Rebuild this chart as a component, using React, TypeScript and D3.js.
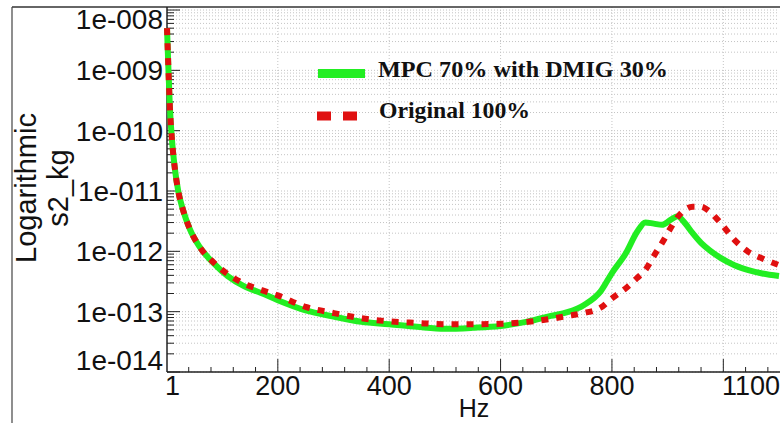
import React from "react";
import * as d3 from "d3";

// frequency (Hz) sampled along both curves
const freqs = [1, 3, 6, 10, 15, 21, 30, 42, 60, 85, 110, 140, 170, 200, 250, 300, 350, 400, 450, 500, 550, 600, 650, 690, 720, 750, 780, 800, 825, 845, 860, 875, 890, 905, 918, 930, 945, 960, 975, 995, 1020, 1045, 1070, 1100];

const mpcValues = [5.01e-9, 1.48e-9, 2.63e-10, 6.92e-11, 2.4e-11, 1.02e-11, 4.79e-12, 2.34e-12, 1.17e-12, 6.31e-13, 3.89e-13, 2.63e-13, 2.04e-13, 1.55e-13, 1.05e-13, 8.3e-14, 6.8e-14, 6.2e-14, 5.6e-14, 5.2e-14, 5.4e-14, 5.8e-14, 6.9e-14, 8.5e-14, 9.8e-14, 1.29e-13, 2.19e-13, 4.37e-13, 9.3e-13, 2.09e-12, 3.02e-12, 2.88e-12, 2.75e-12, 3.31e-12, 3.8e-12, 3.02e-12, 2.0e-12, 1.38e-12, 1.05e-12, 7.8e-13, 5.9e-13, 4.9e-13, 4.3e-13, 3.9e-13];

const originalValues = [5.01e-9, 1.48e-9, 2.63e-10, 6.92e-11, 2.4e-11, 1.02e-11, 4.79e-12, 2.34e-12, 1.17e-12, 6.5e-13, 4.2e-13, 2.9e-13, 2.3e-13, 1.86e-13, 1.2e-13, 9.5e-14, 7.8e-14, 6.9e-14, 6.5e-14, 6.2e-14, 6.2e-14, 6.3e-14, 6.8e-14, 7.6e-14, 8.5e-14, 9.5e-14, 1.17e-13, 1.66e-13, 2.45e-13, 3.6e-13, 4.9e-13, 8.3e-13, 1.38e-12, 2.4e-12, 3.7e-12, 4.8e-12, 5.5e-12, 5.5e-12, 4.6e-12, 2.95e-12, 1.55e-12, 9.8e-13, 7.6e-13, 5.9e-13];

const seriesNames = ["MPC 70% with DMIG 30%", "Original 100%"];

const xMajorTicks = [200, 400, 600, 800, 1000];
const xLabelValues = [1, 200, 400, 600, 800, 1100];
const xLabels = ["1", "200", "400", "600", "800", "1100"];

const yDecades = [1e-14, 1e-13, 1e-12, 1e-11, 1e-10, 1e-9, 1e-8];
const yLabels = ["1e-014", "1e-013", "1e-012", "1e-011", "1e-010", "1e-009", "1e-008"];

const W = 780;
const H = 423;
const left = 167;
const right = 779;
const top = 7;
const bottom = 372;

const sans = "'Liberation Sans', Arial, Helvetica, sans-serif";
const serif = "'Liberation Serif', 'Times New Roman', serif";

export default function App() {
  const x = d3.scaleLinear().domain([1, 1100]).range([left, right]);
  const y = d3.scaleLog().domain([1e-14, Math.pow(10, -7.95)]).range([bottom, top]);

  // minor log ticks 2..9 in each decade
  const yMinor: number[] = [];
  yDecades.forEach(d => {
    for (let k = 2; k <= 9; k++) {
      const v = d * k;
      if (y(v) >= top) yMinor.push(v);
    }
  });
  const xMinor = d3.range(40, 1100, 40).filter(v => !xMajorTicks.includes(v));

  const line = d3.line<number>()
    .x((d, i) => x(freqs[i]))
    .y(d => y(d))
    .curve(d3.curveMonotoneX);

  return (
    <svg width={W} height={H} style={{ position: "absolute", left: 0, top: 0, background: "white" }}>
      <rect x={0} y={0} width={W} height={H} fill="white" />
      {/* grid */}
      <g stroke="#c4c4c4" strokeWidth={1} strokeDasharray="1,2">
        {[...yMinor, ...yDecades].map((v, i) => (
          <line key={"gy" + i} x1={left} x2={right} y1={y(v)} y2={y(v)} />
        ))}
        {xMajorTicks.map(v => (
          <line key={"gx" + v} x1={x(v)} x2={x(v)} y1={top} y2={bottom} />
        ))}
      </g>

      {/* outer frame */}
      <line x1={12} x2={W} y1={top} y2={top} stroke="#333" strokeWidth={1.5} />
      <line x1={12} x2={12} y1={top} y2={H} stroke="#444" strokeWidth={1.2} />

      {/* axes */}
      <line x1={left} x2={left} y1={top} y2={bottom} stroke="#222" strokeWidth={1.5} />
      <line x1={left} x2={W} y1={bottom} y2={bottom} stroke="#222" strokeWidth={1.5} />

      {/* ticks */}
      <g stroke="#222" strokeWidth={1}>
        {yDecades.map((v, i) => (
          <line key={"yt" + i} x1={left} x2={left + 13} y1={y(v)} y2={y(v)} />
        ))}
        {yMinor.map((v, i) => (
          <line key={"ym" + i} x1={left} x2={left + 7} y1={y(v)} y2={y(v)} />
        ))}
        {xMajorTicks.map(v => (
          <line key={"xt" + v} x1={x(v)} x2={x(v)} y1={bottom} y2={bottom - 13} />
        ))}
        {xMinor.map(v => (
          <line key={"xm" + v} x1={x(v)} x2={x(v)} y1={bottom} y2={bottom - 5} />
        ))}
      </g>

      {/* y labels */}
      <g fontFamily={sans} fontSize={28} fill="#111" textAnchor="end">
        {yDecades.map((v, i) => {
          const cy = Math.min(Math.max(y(v), 19), 360);
          return (
            <text key={"yl" + i} x={163} y={cy + 10}>{yLabels[i]}</text>
          );
        })}
      </g>

      {/* x labels */}
      <g fontFamily={sans} fontSize={27} fill="#111">
        {xLabelValues.map((v, i) => {
          const last = i === xLabelValues.length - 1;
          const first = i === 0;
          return (
            <text
              key={"xl" + v}
              x={first ? x(v) - 2 : last ? x(v) + 1 : x(v)}
              y={395}
              textAnchor={first ? "start" : last ? "end" : "middle"}
            >
              {xLabels[i]}
            </text>
          );
        })}
      </g>
      <text x={474} y={417} fontFamily={sans} fontSize={25} textAnchor="middle" fill="#111">Hz</text>

      {/* y title */}
      <g fontFamily={sans} fontSize={29} fill="#111" textAnchor="middle">
        <text transform="translate(36,188) rotate(-90)">Logarithmic</text>
        <text transform="translate(68,188) rotate(-90)">s2_kg</text>
      </g>

      {/* curves */}
      <path d={line(mpcValues) || ""} fill="none" stroke="#22ee22" strokeWidth={6} strokeLinejoin="round" />
      <path d={line(originalValues) || ""} fill="none" stroke="#e01010" strokeWidth={6} strokeDasharray="7,8" />

      {/* legend */}
      <line x1={318} x2={365} y1={73.5} y2={73.5} stroke="#22ee22" strokeWidth={9} />
      <line x1={317} x2={357} y1={116} y2={116} stroke="#e01010" strokeWidth={9} strokeDasharray="14,12" />
      <g fontFamily={serif} fontWeight="bold" fontSize={24} fill="#111">
        <text x={378} y={77} textLength={290} lengthAdjust="spacingAndGlyphs">{seriesNames[0]}</text>
        <text x={379} y={118} textLength={151} lengthAdjust="spacingAndGlyphs">{seriesNames[1]}</text>
      </g>
    </svg>
  );
}
